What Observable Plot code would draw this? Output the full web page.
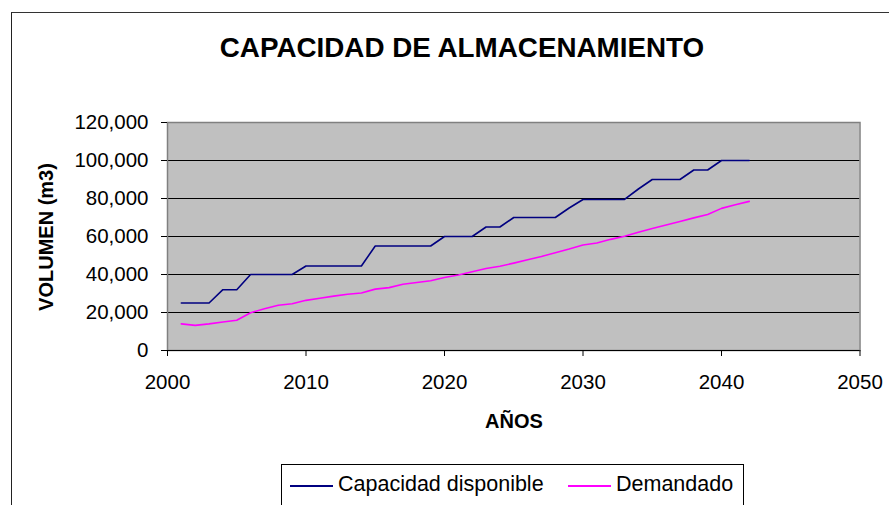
<!DOCTYPE html>
<html>
<head>
<meta charset="utf-8">
<script src="https://cdn.jsdelivr.net/npm/d3@7"></script>
<script src="https://cdn.jsdelivr.net/npm/@observablehq/plot@0.6"></script>
<style>
  html, body { margin: 0; padding: 0; background: #fff; overflow: hidden; width: 889px; height: 505px; }
  #root { position: relative; width: 889px; height: 505px; font-family: "Liberation Sans", Arial, sans-serif; }
  #frame { position: absolute; left: 11px; top: 12px; width: 1000px; height: 600px; border-left: 1.5px solid #222; border-top: 1.5px solid #333; }
  #title { position: absolute; left: 112px; width: 700px; top: 32px; text-align: center; font-weight: bold; font-size: 27.8px; white-space: nowrap; color: #000; }
  #chart { position: absolute; left: 0; top: 0; }
  #ylab { position: absolute; left: 46px; top: 237px; transform: translate(-50%, -50%) rotate(-90deg); font-weight: bold; font-size: 20px; white-space: nowrap; }
  #xlab { position: absolute; left: 514px; top: 410px; transform: translateX(-50%); font-weight: bold; font-size: 20px; white-space: nowrap; }
  #legend { position: absolute; left: 281px; top: 464px; width: 461px; height: 60px; border: 1px solid #000; background: #fff; }
  .sw { position: absolute; height: 0; border-top: 2px solid; top: 20px; }
  .lt { position: absolute; top: 7px; font-size: 21.5px; white-space: nowrap; }
</style>
</head>
<body>
<div id="root">
  <div id="frame"></div>
  <div id="title">CAPACIDAD DE ALMACENAMIENTO</div>
  <div id="chart"></div>
  <div id="ylab">VOLUMEN (m3)</div>
  <div id="xlab">AÑOS</div>
  <div id="legend"></div>
</div>
<script>
const years = [2001,2002,2003,2004,2005,2006,2007,2008,2009,2010,2011,2012,2013,2014,2015,2016,2017,2018,2019,2020,2021,2022,2023,2024,2025,2026,2027,2028,2029,2030,2031,2032,2033,2034,2035,2036,2037,2038,2039,2040,2041,2042];
const capacidad = [25000,25000,25000,32000,32000,40000,40000,40000,40000,44500,44500,44500,44500,44500,55000,55000,55000,55000,55000,60000,60000,60000,65000,65000,70000,70000,70000,70000,75000,79500,79500,79500,79500,85000,90000,90000,90000,95000,95000,100000,100000,100000];
const demandado = [14000,13200,14000,15000,15900,19900,22000,23800,24600,26400,27500,28600,29600,30300,32300,33100,34900,35800,36700,38400,39700,41400,43200,44300,46000,47800,49500,51500,53400,55500,56600,58500,60100,62200,64200,66100,67900,69800,71600,74800,76700,78500];
const seriesNames = ["Capacidad disponible", "Demandado"];
const seriesColors = ["#000080", "#FF00FF"];
const yTicks = [0,20000,40000,60000,80000,100000,120000];
const xTicks = [2000,2010,2020,2030,2040,2050];

const rows = [];
years.forEach((yr, i) => {
  rows.push({year: yr, value: capacidad[i], serie: seriesNames[0]});
  rows.push({year: yr, value: demandado[i], serie: seriesNames[1]});
});

const chart = Plot.plot({
  width: 889,
  height: 400,
  marginLeft: 167,
  marginRight: 29.5,
  marginTop: 122,
  marginBottom: 50,
  style: { background: "transparent", fontFamily: "'Liberation Sans', Arial, sans-serif", fontSize: "20.5px", color: "#000", overflow: "visible" },
  x: { domain: [2000, 2050], ticks: xTicks, tickFormat: d3.format("d") },
  y: { domain: [0, 120000], ticks: yTicks, tickFormat: d3.format(",") },
  color: { domain: seriesNames, range: seriesColors },
  marks: [
    Plot.rect([0], { x1: 2000, x2: 2050, y1: 0, y2: 120000, fill: "#C0C0C0" }),
    Plot.gridY(yTicks, { stroke: "#000", strokeOpacity: 1, strokeWidth: 1 }),
    Plot.frame({ stroke: "#808080", strokeWidth: 1.5 }),
    Plot.ruleY([0], { stroke: "#000", strokeWidth: 1.2 }),
    Plot.axisY({ ticks: yTicks, tickFormat: d3.format(","), tickSize: 6, tickPadding: 13, label: null, stroke: "#000" }),
    Plot.axisX({ ticks: xTicks, tickFormat: d3.format("d"), tickSize: 6, tickPadding: 18, label: null, stroke: "#000" }),
    Plot.line(rows, { x: "year", y: "value", z: "serie", stroke: "serie", strokeWidth: 1.6 })
  ]
});
document.getElementById("chart").appendChild(chart);

// legend
const legend = document.getElementById("legend");
const swX = [8, 286];
const txX = [56, 334];
seriesNames.forEach((name, i) => {
  const sw = document.createElement("div");
  sw.className = "sw";
  sw.style.left = swX[i] + "px";
  sw.style.width = "43px";
  sw.style.borderTopColor = seriesColors[i];
  legend.appendChild(sw);
  const t = document.createElement("div");
  t.className = "lt";
  t.style.left = txX[i] + "px";
  t.textContent = name;
  legend.appendChild(t);
});
</script>
</body>
</html>
